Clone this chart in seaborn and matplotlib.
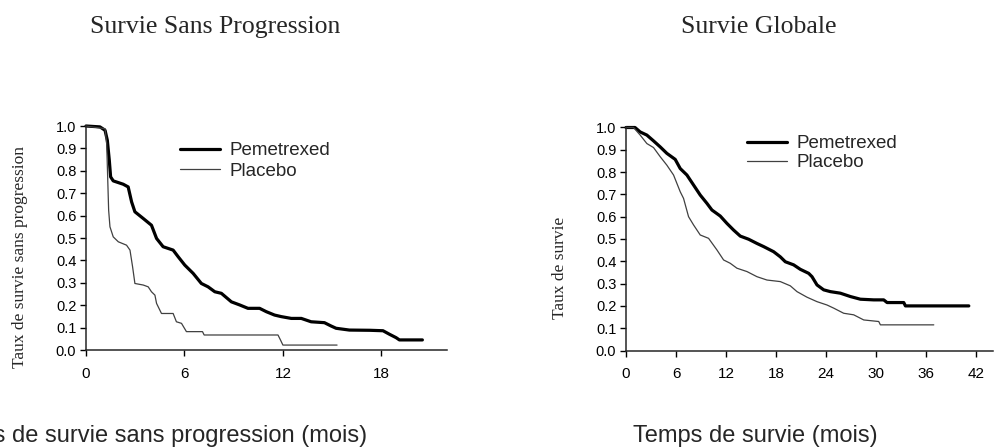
import matplotlib
matplotlib.use('Agg')
import matplotlib.pyplot as plt
import seaborn as sns
import pandas as pd
import numpy as np

# Survie sans progression (mois, taux)
pfs_pem_t = [0, 0.85, 1.16, 1.30, 1.42, 1.50, 1.66, 2.27, 2.57, 2.78, 2.98, 3.49, 3.99, 4.30,
             4.70, 5.31, 5.62, 6.02, 6.53, 7.03, 7.44, 7.85, 8.25, 8.86, 9.37, 9.87, 10.58,
             10.99, 11.49, 11.90, 12.51, 13.12, 13.72, 14.53, 14.94, 15.24, 16.05, 17.3, 18.1,
             18.5, 18.9, 19.1, 20.5]
pfs_pem_v = [1.0, 0.996, 0.981, 0.936, 0.847, 0.773, 0.755, 0.740, 0.728, 0.661, 0.617, 0.587,
             0.557, 0.498, 0.461, 0.446, 0.416, 0.379, 0.342, 0.297, 0.282, 0.260, 0.253, 0.215,
             0.201, 0.186, 0.186, 0.171, 0.156, 0.149, 0.141, 0.141, 0.126, 0.122, 0.107, 0.097,
             0.089, 0.088, 0.086, 0.07, 0.055, 0.045, 0.045]
pfs_pla_t = [0, 1.16, 1.26, 1.32, 1.38, 1.46, 1.66, 1.97, 2.47, 2.68, 2.84, 2.98, 3.49, 3.79,
             3.99, 4.20, 4.30, 4.50, 4.60, 5.31, 5.51, 5.82, 6.12, 7.1, 7.2, 11.7, 11.85, 12.0, 15.3]
pfs_pla_v = [1.0, 0.988, 0.921, 0.773, 0.624, 0.550, 0.505, 0.483, 0.468, 0.446, 0.371, 0.297,
             0.290, 0.282, 0.260, 0.245, 0.208, 0.178, 0.163, 0.163, 0.126, 0.119, 0.082, 0.082,
             0.067, 0.067, 0.045, 0.022, 0.022]

# Survie globale (mois, taux)
os_pem_t = [0, 1.08, 1.7, 2.5, 3.3, 4.1, 4.9, 5.9, 6.5, 7.3, 8.1, 8.9, 9.7, 10.3, 11.3, 12.1,
            12.9, 13.7, 14.7, 15.7, 16.5, 17.7, 18.5, 19.1, 20.1, 20.9, 21.9, 22.3, 22.9, 23.7,
            24.5, 25.7, 26.9, 28.1, 29.7, 30.9, 31.3, 33.3, 33.5, 41.1]
os_pem_v = [1.0, 1.0, 0.98, 0.966, 0.94, 0.913, 0.884, 0.857, 0.816, 0.787, 0.742, 0.697, 0.66,
            0.63, 0.603, 0.57, 0.54, 0.513, 0.499, 0.48, 0.466, 0.443, 0.42, 0.398, 0.384, 0.364,
            0.346, 0.331, 0.294, 0.272, 0.264, 0.257, 0.242, 0.23, 0.227, 0.227, 0.215, 0.215,
            0.2, 0.2]
os_pla_t = [0, 0.9, 1.7, 2.5, 3.3, 4.1, 4.9, 5.7, 6.5, 6.9, 7.5, 8.1, 8.9, 9.9, 10.9, 11.7,
            12.5, 13.3, 14.5, 15.7, 16.9, 18.5, 19.7, 20.5, 21.7, 22.9, 24.1, 24.9, 26.1, 27.3,
            28.5, 30.3, 30.5, 36.9]
os_pla_v = [1.0, 1.0, 0.966, 0.928, 0.91, 0.869, 0.831, 0.787, 0.712, 0.682, 0.6, 0.563, 0.518,
            0.503, 0.451, 0.406, 0.391, 0.369, 0.354, 0.331, 0.316, 0.309, 0.29, 0.264, 0.239,
            0.219, 0.204, 0.19, 0.167, 0.16, 0.137, 0.13, 0.115, 0.115]

groups = ['Pemetrexed', 'Placebo']
pfs_xticks = [0, 6, 12, 18]
os_xticks = [0, 6, 12, 18, 24, 30, 36, 42]
yticks = np.round(np.arange(0, 1.01, 0.1), 1)

sns.set_style('ticks')
plt.rcParams['font.family'] = ['Liberation Sans', 'DejaVu Sans']
plt.rcParams['axes.linewidth'] = 1.1

styles = {'Pemetrexed': dict(color='black', linewidth=2.3),
          'Placebo': dict(color='#404040', linewidth=0.9)}

fig = plt.figure(figsize=(9.95, 4.48), dpi=100)
ax1 = fig.add_axes([86 / 995, 1 - 350 / 448, 361 / 995, 224 / 448])
ax2 = fig.add_axes([626 / 995, 1 - 350.5 / 448, 367 / 995, 223 / 448])


def draw(ax, series, xmax, xticks):
    for name, (t, v) in zip(groups, series):
        df = pd.DataFrame({'t': t, 'v': v})
        sns.lineplot(data=df, x='t', y='v', ax=ax, estimator=None, sort=False,
                     label=name, clip_on=False, **styles[name])
    ax.set_xlim(0, xmax)
    ax.set_ylim(0, 1)
    ax.set_xticks(xticks)
    ax.set_yticks(yticks)
    ax.set_yticklabels(['%.1f' % y for y in yticks])
    ax.set_xlabel('')
    ax.set_ylabel('')
    ax.tick_params(axis='both', direction='out', length=4, width=1, colors='black')
    ax.tick_params(axis='y', labelsize=10.5, pad=3)
    ax.tick_params(axis='x', labelsize=11, pad=8)
    sns.despine(ax=ax)


draw(ax1, [(pfs_pem_t, pfs_pem_v), (pfs_pla_t, pfs_pla_v)], 22, pfs_xticks)
draw(ax2, [(os_pem_t, os_pem_v), (os_pla_t, os_pla_v)], 44, os_xticks)

ax1.legend(loc='upper left', bbox_to_anchor=(180 / 995, 1 - 142 / 448),
           bbox_transform=fig.transFigure, frameon=False, fontsize=13.5,
           handlelength=2.15, handletextpad=0.5, labelspacing=0.2,
           borderpad=0, borderaxespad=0)
ax2.legend(loc='upper left', bbox_to_anchor=(747 / 995, 1 - 135 / 448),
           bbox_transform=fig.transFigure, frameon=False, fontsize=13.5,
           handlelength=2.15, handletextpad=0.5, labelspacing=0.1,
           borderpad=0, borderaxespad=0)

serif = ['Liberation Serif', 'DejaVu Serif']
fig.text(215 / 995, 1 - 27 / 448, 'Survie Sans Progression', family=serif, fontsize=18.5,
         ha='center', va='center')
fig.text(759 / 995, 1 - 27 / 448, 'Survie Globale', family=serif, fontsize=18.5,
         ha='center', va='center')
fig.text(20 / 995, 1 - 257 / 448, 'Taux de survie sans progression', family=serif,
         fontsize=12.5, rotation=90, ha='center', va='center')
fig.text(560 / 995, 1 - 268 / 448, 'Taux de survie', family=serif, fontsize=12.5,
         rotation=90, ha='center', va='center')
fig.text(152 / 995, 1 - 436 / 448, 'Temps de survie sans progression (mois)', fontsize=17,
         ha='center', va='center')
fig.text(755 / 995, 1 - 436 / 448, 'Temps de survie (mois)', fontsize=17,
         ha='center', va='center')

fig.savefig('out.png', dpi=100)
